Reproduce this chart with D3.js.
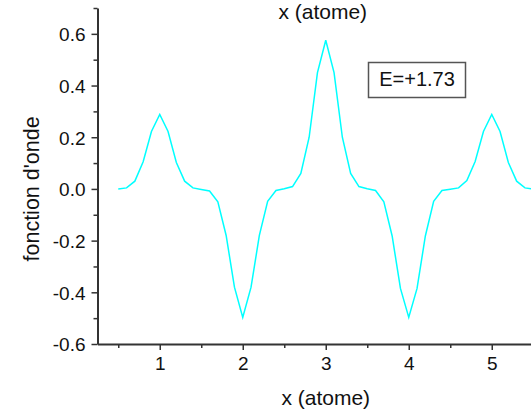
<!DOCTYPE html>
<html>
<head>
<meta charset="utf-8">
<script src="https://cdn.jsdelivr.net/npm/d3@7"></script>
<style>
  body { margin: 0; background: #fff; }
  svg { display: block; font-family: "Liberation Sans", Arial, sans-serif; }
</style>
</head>
<body>
<div id="chart"></div>
<script>
// positions along the chain (atome index)
var xValues = [0.5, 0.6, 0.7, 0.8, 0.9, 1.0, 1.1, 1.2, 1.3, 1.4,
  1.5, 1.6, 1.7, 1.8, 1.9, 2.0, 2.1, 2.2, 2.3, 2.4,
  2.5, 2.6, 2.7, 2.8, 2.9, 3.0, 3.1, 3.2, 3.3, 3.4,
  3.5, 3.6, 3.7, 3.8, 3.9, 4.0, 4.1, 4.2, 4.3, 4.4,
  4.5, 4.6, 4.7, 4.8, 4.9, 5.0, 5.1, 5.2, 5.3, 5.4, 5.5];

// wave function
var psiValues = [0.000, 0.004, 0.030, 0.105, 0.222, 0.288, 0.222, 0.102, 0.030, 0.004,
  -0.002, -0.008, -0.050, -0.180, -0.380, -0.497, -0.380, -0.180, -0.048, -0.006,
  0.001, 0.009, 0.060, 0.200, 0.450, 0.575, 0.450, 0.200, 0.060, 0.009,
  0.001, -0.006, -0.050, -0.182, -0.385, -0.497, -0.385, -0.182, -0.048, -0.006,
  -0.001, 0.004, 0.032, 0.106, 0.222, 0.288, 0.222, 0.102, 0.030, 0.004, 0.000];

var xTicks = [1, 2, 3, 4, 5];
var xMinorTicks = [0.5, 1.5, 2.5, 3.5, 4.5, 5.5];
var yTicks = [-0.6, -0.4, -0.2, 0.0, 0.2, 0.4, 0.6];
var yMinorTicks = [-0.5, -0.3, -0.1, 0.1, 0.3, 0.5, 0.7];
var energyLabel = "E=+1.73";

var width = 531, height = 411;

var x = d3.scaleLinear().domain([0.25, 5.75]).range([97.5, 554]);
var y = d3.scaleLinear().domain([-0.6, 0.7]).range([344, 8]);

var svg = d3.select("#chart").append("svg")
  .attr("width", width)
  .attr("height", height);

var axisColor = "#333";

// plain hyphen for negatives, like the original
var fmtY = function(d) { return d3.format(".1f")(d).replace("\u2212", "-"); };

// minor ticks first (no labels)
svg.append("g")
  .attr("transform", "translate(0," + y(-0.6) + ")")
  .call(d3.axisBottom(x).tickValues(xMinorTicks).tickSize(4).tickSizeOuter(0).tickFormat(""))
  .call(g => g.select(".domain").remove());

svg.append("g")
  .attr("transform", "translate(" + x(0.25) + ",0)")
  .call(d3.axisLeft(y).tickValues(yMinorTicks).tickSize(4).tickSizeOuter(0).tickFormat(""))
  .call(g => g.select(".domain").remove());

var xAxis = svg.append("g")
  .attr("transform", "translate(0," + y(-0.6) + ")")
  .call(d3.axisBottom(x).tickValues(xTicks).tickSize(6).tickSizeOuter(0).tickPadding(7)
    .tickFormat(d3.format("d")));

var yAxis = svg.append("g")
  .attr("transform", "translate(" + x(0.25) + ",0)")
  .call(d3.axisLeft(y).tickValues(yTicks).tickSize(6).tickSizeOuter(0).tickPadding(6)
    .tickFormat(fmtY));

svg.selectAll(".tick line").attr("stroke", axisColor).attr("stroke-width", 1.5);
svg.selectAll(".domain").attr("stroke", axisColor).attr("stroke-width", 2);
svg.selectAll(".tick text")
  .attr("fill", "#111")
  .style("font-size", "19px")
  .style("font-family", "'Liberation Sans', Arial, sans-serif");
yAxis.selectAll(".tick text").attr("dy", "0.36em");

// the curve
var line = d3.line()
  .x(function(d, i) { return x(xValues[i]); })
  .y(function(d) { return y(d); });

svg.append("path")
  .datum(psiValues)
  .attr("fill", "none")
  .attr("stroke", "#00ffff")
  .attr("stroke-width", 1.5)
  .attr("d", line);

// axis titles
svg.append("text")
  .attr("x", x(3)).attr("y", 405)
  .attr("text-anchor", "middle")
  .style("font-size", "21px")
  .attr("fill", "#111")
  .text("x (atome)");

svg.append("text")
  .attr("x", x(3) - 3).attr("y", 19)
  .attr("text-anchor", "middle")
  .style("font-size", "21px")
  .attr("fill", "#111")
  .text("x (atome)");

svg.append("text")
  .attr("transform", "translate(38.5," + y(0) + ") rotate(-90)")
  .attr("text-anchor", "middle")
  .style("font-size", "21.5px")
  .attr("fill", "#111")
  .text("fonction d'onde");

// energy box
var box = svg.append("g").attr("transform", "translate(368.5,62.5)");
box.append("rect")
  .attr("width", 97).attr("height", 35)
  .attr("fill", "#fff")
  .attr("stroke", "#555")
  .attr("stroke-width", 1.5);
box.append("text")
  .attr("x", 48.5).attr("y", 23.5)
  .attr("text-anchor", "middle")
  .style("font-size", "20px")
  .attr("fill", "#111")
  .text(energyLabel);
</script>
</body>
</html>
